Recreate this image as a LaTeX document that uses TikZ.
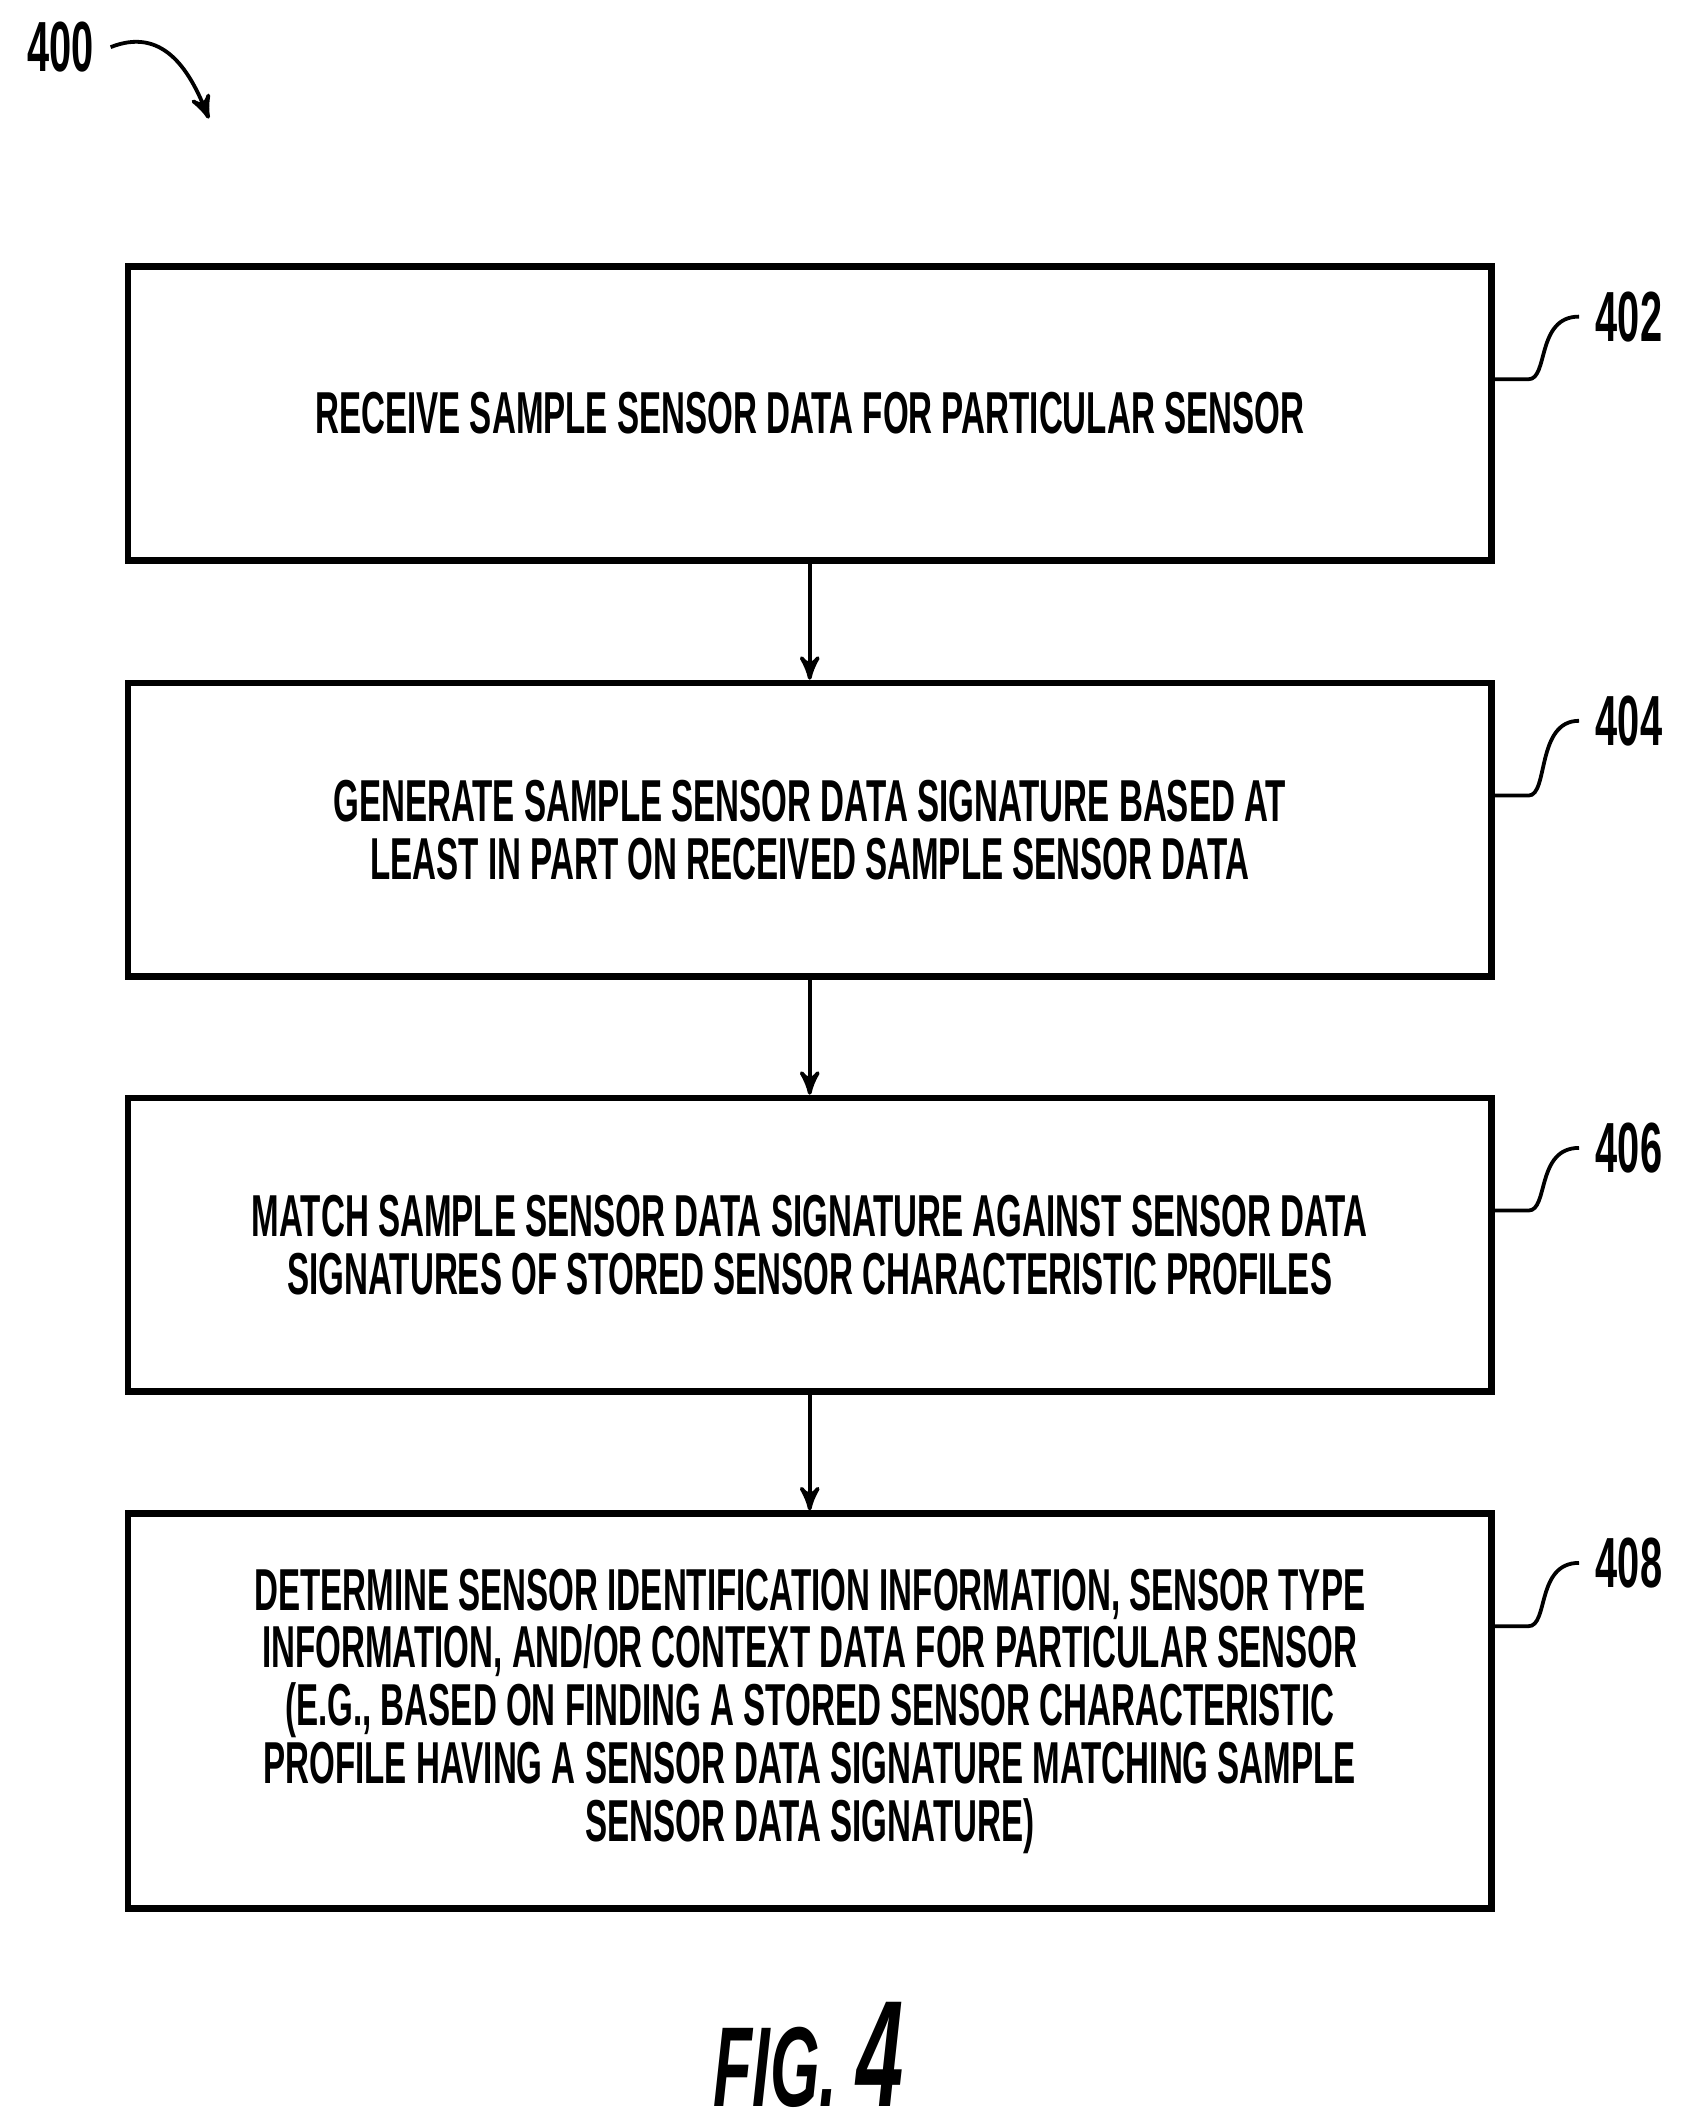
\documentclass[tikz,border=0pt]{standalone}
\usepackage{fontspec}
\setmainfont[FakeStretch=0.56]{Liberation Sans}
\usetikzlibrary{calc, arrows}
\tikzstyle{every picture}+=[font=\fontsize{12.5}{12.2}\selectfont\bfseries]
\tikzstyle{block} = [rectangle, draw=black, fill=white, text=black,
    text centered, minimum width=10.12cm, line width=0.5mm, inner sep=0pt]
\tikzstyle{line} = [draw, -latex', thick, ->, >=stealth']
\tikzstyle{ref} = [font=\fontsize{15}{15}\selectfont\bfseries]
\tikzstyle{squig} = [draw, thick]

\begin{document}
\begin{tikzpicture}[x=0.1mm, y=-0.1mm]
  \useasboundingbox (0,0) rectangle (1250,1575);
  \node [block, minimum height=2.18cm] (receive) at (601,307) {RECEIVE SAMPLE SENSOR DATA FOR PARTICULAR SENSOR};
  \node [block, minimum height=2.18cm, align=center] (generate) at (601,616) {GENERATE SAMPLE SENSOR DATA SIGNATURE BASED AT\\ LEAST IN PART ON RECEIVED SAMPLE SENSOR DATA};
  \node [block, minimum height=2.18cm, align=center] (match) at (601,924) {MATCH SAMPLE SENSOR DATA SIGNATURE AGAINST SENSOR DATA\\ SIGNATURES OF STORED SENSOR CHARACTERISTIC PROFILES};
  \node [block, minimum height=2.93cm, align=center] (determine) at (601,1270) {DETERMINE SENSOR IDENTIFICATION INFORMATION, SENSOR TYPE\\ INFORMATION, AND/OR CONTEXT DATA FOR PARTICULAR SENSOR\\ (E.G., BASED ON FINDING A STORED SENSOR CHARACTERISTIC\\ PROFILE HAVING A SENSOR DATA SIGNATURE MATCHING SAMPLE\\ SENSOR DATA SIGNATURE)};

  \path [line] (receive) -- (generate);
  \path [line] (generate) -- (match);
  \path [line] (match) -- (determine);

  % reference numerals
  \foreach \blk/\num/\yy in {receive/402/235, generate/404/535, match/406/852, determine/408/1160} {
    \node [ref, anchor=west] (n\num) at (1172,\yy) {\num};
    \path [squig] ($(\blk.north east)+(0,86)$) -- ++(25,0)
      .. controls +(15,0) and (1140,\yy) .. (n\num.west);
  }

  \node [ref, anchor=west] (fignum) at (8,35) {400};
  \draw [thick, ->, >=stealth'] (fignum.east) .. controls (120,20) and (140,50) .. (155,88);

  \node [font=\fontsize{24}{24}\selectfont\bfseries\itshape] (caption) at (600,1525) {FIG.\,{\fontsize{32}{32}\selectfont 4}};
\end{tikzpicture}
\end{document}
